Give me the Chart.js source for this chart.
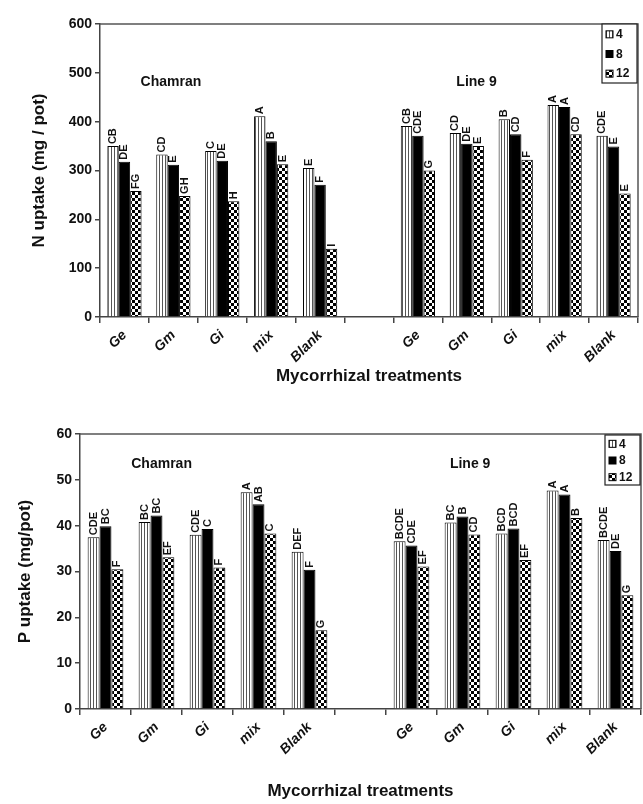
<!DOCTYPE html>
<html>
<head>
<meta charset="utf-8">
<script src="https://cdn.jsdelivr.net/npm/chart.js@4"></script>
<style>
  body { margin: 0; background: #fff; }
  .box { position: absolute; left: 0; width: 643px; }
</style>
</head>
<body>
<div class="box" style="top:0;height:400px"><canvas id="nChart" width="643" height="400"></canvas></div>
<div class="box" style="top:400px;height:404px"><canvas id="pChart" width="643" height="404"></canvas></div>
<script>
// treatments, two cultivars side by side with an empty slot in between
const categories = ['Ge', 'Gm', 'Gi', 'mix', 'Blank', '', 'Ge', 'Gm', 'Gi', 'mix', 'Blank'];
const seriesNames = ['4', '8', '12'];
const groupNames = ['Chamran', 'Line 9'];

// N uptake (mg / pot)
const nUptake4  = [350, 333, 340, 411, 305, null, 391, 377, 405, 434, 371];
const nUptake8  = [318, 312, 320, 360, 271, null, 371, 355, 374, 430, 349];
const nUptake12 = [258, 248, 237, 313, 140, null, 300, 350, 322, 374, 253];
const nLetters4  = ['CB', 'CD', 'C', 'A', 'E', '', 'CB', 'CD', 'B', 'A', 'CDE'];
const nLetters8  = ['DE', 'E', 'DE', 'B', 'F', '', 'CDE', 'DE', 'CD', 'A', 'E'];
const nLetters12 = ['FG', 'GH', 'H', 'E', 'I', '', 'G', 'E', 'F', 'CD', 'E'];
const nTicks = [0, 100, 200, 300, 400, 500, 600];

// P uptake (mg/pot)
const pUptake4  = [37.5, 40.8, 38.0, 47.3, 34.3, null, 36.6, 40.7, 38.3, 47.7, 36.9];
const pUptake8  = [39.9, 42.2, 39.3, 44.7, 30.4, null, 35.7, 42.0, 39.4, 46.8, 34.5];
const pUptake12 = [30.5, 33.1, 30.9, 38.3, 17.2, null, 31.1, 38.1, 32.5, 41.7, 24.8];
const pLetters4  = ['CDE', 'BC', 'CDE', 'A', 'DEF', '', 'BCDE', 'BC', 'BCD', 'A', 'BCDE'];
const pLetters8  = ['BC', 'BC', 'C', 'AB', 'F', '', 'CDE', 'B', 'BCD', 'A', 'DE'];
const pLetters12 = ['F', 'EF', 'F', 'C', 'G', '', 'EF', 'CD', 'EF', 'B', 'G'];
const pTicks = [0, 10, 20, 30, 40, 50, 60];

const FONT = "'Liberation Sans', Arial, sans-serif";

function stripes() {
  const c = document.createElement('canvas');
  c.width = 3; c.height = 3;
  const g = c.getContext('2d');
  g.fillStyle = '#fff'; g.fillRect(0, 0, 3, 3);
  g.fillStyle = '#555'; g.fillRect(0, 0, 1, 3);
  return g.createPattern(c, 'repeat');
}
function checker() {
  const c = document.createElement('canvas');
  c.width = 6; c.height = 6;
  const g = c.getContext('2d');
  g.fillStyle = '#fff'; g.fillRect(0, 0, 6, 6);
  g.fillStyle = '#000'; g.fillRect(0, 0, 3, 3); g.fillRect(3, 3, 3, 3);
  return g.createPattern(c, 'repeat');
}
const fills = [stripes(), '#000', checker()];

// letters above each bar, rotated
const lettersPlugin = {
  id: 'letters',
  afterDatasetsDraw(chart, args, opts) {
    const ctx = chart.ctx;
    ctx.save();
    ctx.font = 'bold 11px ' + FONT;
    ctx.fillStyle = '#111';
    chart.data.datasets.forEach((ds, i) => {
      chart.getDatasetMeta(i).data.forEach((bar, j) => {
        const t = opts.text[i][j];
        if (!t || ds.data[j] == null) return;
        ctx.save();
        ctx.translate(bar.x, bar.y - 2);
        ctx.rotate(-Math.PI / 2);
        ctx.textAlign = 'left';
        ctx.textBaseline = 'middle';
        ctx.fillText(t, 0, 0);
        ctx.restore();
      });
    });
    ctx.restore();
  }
};

// top and right frame, group names, legend box
const framePlugin = {
  id: 'frame',
  afterDraw(chart, args, opts) {
    const ctx = chart.ctx;
    const a = chart.chartArea;
    const x = chart.scales.x, y = chart.scales.y;
    ctx.save();
    ctx.strokeStyle = '#555';
    ctx.lineWidth = 1.5;
    ctx.beginPath();
    ctx.moveTo(a.left, a.top);
    ctx.lineTo(a.right, a.top);
    ctx.lineTo(a.right, a.bottom);
    ctx.stroke();

    ctx.font = 'bold 14px ' + FONT;
    ctx.fillStyle = '#111';
    ctx.textAlign = 'center';
    ctx.textBaseline = 'middle';
    ctx.fillText(groupNames[0], x.getPixelForValue(opts.groupAt[0]), y.getPixelForValue(opts.groupY));
    ctx.fillText(groupNames[1], x.getPixelForValue(opts.groupAt[1]), y.getPixelForValue(opts.groupY));

    const lg = opts.legend;
    const bx = a.right - lg.right - lg.w, by = a.top + lg.top;
    ctx.fillStyle = '#fff';
    ctx.fillRect(bx, by, lg.w, lg.h);
    ctx.strokeStyle = '#222';
    ctx.lineWidth = 1.2;
    ctx.strokeRect(bx, by, lg.w, lg.h);
    ctx.font = 'bold 12px ' + FONT;
    ctx.textAlign = 'left';
    seriesNames.forEach((s, i) => {
      const cy = by + lg.h * (i + 0.5) / 3 + 1;
      ctx.fillStyle = fills[i];
      ctx.fillRect(bx + 4, cy - 4, 7, 7);
      ctx.strokeStyle = '#000';
      ctx.lineWidth = 1;
      ctx.strokeRect(bx + 4, cy - 4, 7, 7);
      ctx.fillStyle = '#111';
      ctx.fillText(s, bx + 14, cy);
    });
    ctx.restore();
  }
};

function makeChart(id, values, letters, ticks, yTitle, s) {
  const datasets = values.map((v, i) => ({
    label: seriesNames[i],
    data: v,
    backgroundColor: fills[i],
    borderColor: '#000',
    borderWidth: 1,
    categoryPercentage: 0.7,
    barPercentage: 1.0
  }));
  return new Chart(document.getElementById(id), {
    type: 'bar',
    data: { labels: categories, datasets },
    plugins: [lettersPlugin, framePlugin],
    options: {
      responsive: false,
      animation: false,
      devicePixelRatio: 1,
      layout: { padding: { left: s.padL, right: s.padR, top: s.padT, bottom: s.padB } },
      plugins: {
        legend: { display: false },
        tooltip: { enabled: false },
        letters: { text: letters },
        frame: { groupAt: s.groupAt, groupY: s.groupY, legend: s.legend }
      },
      scales: {
        x: {
          offset: true,
          grid: { offset: true, drawOnChartArea: false, tickLength: 6, color: '#444', lineWidth: 1.5 },
          border: { color: '#444', width: 1.5 },
          ticks: {
            autoSkip: false, minRotation: 45, maxRotation: 45, padding: 4,
            color: '#111', font: { family: FONT, size: 14, weight: 'bold', style: 'italic' }
          },
          title: {
            display: true, text: 'Mycorrhizal treatments', color: '#111',
            font: { family: FONT, size: 17, weight: 'bold' }, padding: { top: 0, bottom: s.titlePadB }
          },
          afterFit(sc) { sc.height = s.xHeight; }
        },
        y: {
          min: ticks[0], max: ticks[ticks.length - 1],
          afterBuildTicks(sc) { sc.ticks = ticks.map(v => ({ value: v })); },
          grid: { drawOnChartArea: false, tickLength: 5, color: '#444', lineWidth: 1.5 },
          border: { color: '#444', width: 1.5 },
          ticks: { padding: 3, color: '#111', font: { family: FONT, size: 14, weight: 'bold' } },
          title: {
            display: true, text: yTitle, color: '#111',
            font: { family: FONT, size: 17, weight: 'bold' }, padding: { top: 2, bottom: 0 }
          },
          afterFit(sc) { sc.width = s.yWidth; }
        }
      }
    }
  });
}

makeChart('nChart', [nUptake4, nUptake8, nUptake12], [nLetters4, nLetters8, nLetters12], nTicks,
  'N uptake (mg / pot)', {
    padL: 27, padR: 5, padT: 24, padB: 8, yWidth: 73, xHeight: 75, titlePadB: 5,
    groupAt: [0.95, 7.2], groupY: 480,
    legend: { right: 1, top: 0, w: 35, h: 59 }
  });

makeChart('pChart', [pUptake4, pUptake8, pUptake12], [pLetters4, pLetters8, pLetters12], pTicks,
  'P uptake (mg/pot)', {
    padL: 13, padR: 2, padT: 34, padB: 0, yWidth: 67, xHeight: 95, titlePadB: 2,
    groupAt: [1.1, 7.15], groupY: 53.5,
    legend: { right: 1, top: 1, w: 35, h: 50 }
  });
</script>
</body>
</html>
